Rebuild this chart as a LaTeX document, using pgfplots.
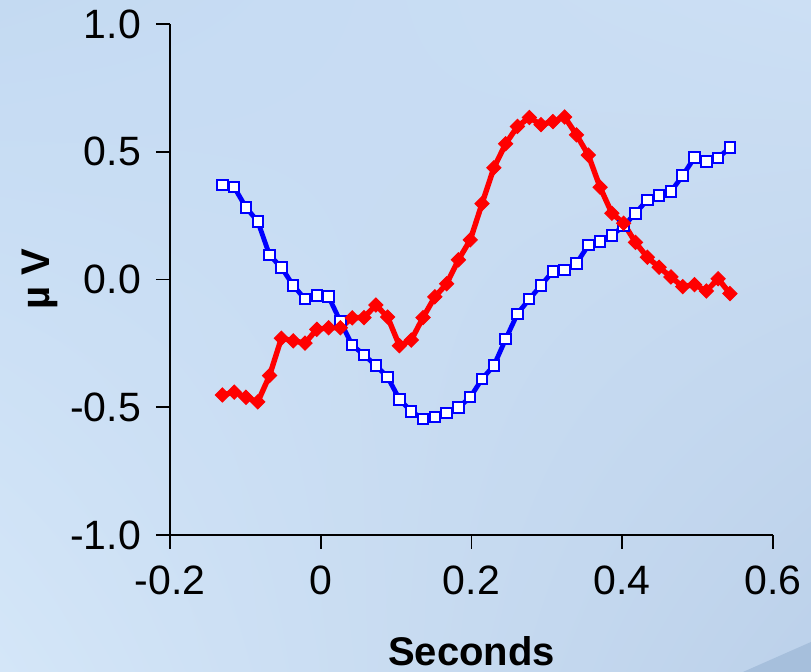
\documentclass[border=0pt]{standalone}
\usepackage{pgfplots}
\pgfplotsset{compat=1.18}
\usepackage{pgfplotstable}
\usetikzlibrary{shadings}
\usepackage{fontspec}
\setmainfont{Liberation Sans}
\definecolor{bgUL}{HTML}{C4DAF2}
\definecolor{bgUR}{HTML}{CCDFF4}
\definecolor{bgLL}{HTML}{D4E6F8}
\definecolor{bgLR}{HTML}{BCD1EA}
\definecolor{swoosh}{HTML}{A6BFDC}
\definecolor{lineblue}{HTML}{0000FF}
\definecolor{linered}{HTML}{FF0000}

\pgfplotstableread{
x        blue    red
-0.1305  0.369  -0.452
-0.1148  0.361  -0.441
-0.0992  0.282  -0.461
-0.0835  0.227  -0.479
-0.0679  0.095  -0.376
-0.0522  0.047  -0.230
-0.0365 -0.023  -0.240
-0.0209 -0.077  -0.249
-0.0052 -0.062  -0.195
 0.0104 -0.067  -0.189
 0.0261 -0.165  -0.189
 0.0418 -0.257  -0.150
 0.0574 -0.295  -0.149
 0.0731 -0.337  -0.100
 0.0887 -0.382  -0.147
 0.1044 -0.469  -0.259
 0.1201 -0.516  -0.237
 0.1357 -0.546  -0.149
 0.1514 -0.538  -0.068
 0.1670 -0.523  -0.017
 0.1827 -0.501   0.077
 0.1984 -0.461   0.155
 0.2140 -0.389   0.297
 0.2297 -0.337   0.437
 0.2453 -0.234   0.531
 0.2610 -0.134   0.599
 0.2767 -0.077   0.634
 0.2923 -0.023   0.606
 0.3080  0.032   0.618
 0.3236  0.038   0.636
 0.3393  0.063   0.566
 0.3550  0.134   0.487
 0.3706  0.149   0.361
 0.3863  0.172   0.259
 0.4019  0.210   0.220
 0.4176  0.259   0.145
 0.4333  0.312   0.087
 0.4489  0.329   0.048
 0.4646  0.344   0.010
 0.4802  0.407  -0.028
 0.4959  0.477  -0.020
 0.5116  0.461  -0.045
 0.5272  0.476   0.003
 0.5429  0.516  -0.055
}\datatable

\begin{document}
\begin{tikzpicture}
\shade[upper left=bgUL, upper right=bgUR, lower left=bgLL, lower right=bgLR] (0pt,0pt) rectangle (405.5pt,336pt);
\fill[swoosh] (371.5pt,0pt) -- (405.5pt,0pt) -- (405.5pt,15pt) -- cycle;
\useasboundingbox (0pt,0pt) rectangle (405.5pt,336pt);
\begin{axis}[
  at={(85pt,68.5pt)}, anchor=south west,
  scale only axis, width=301.5pt, height=255.5pt,
  xmin=-0.2, xmax=0.6, ymin=-1, ymax=1,
  axis lines=left, axis line style={-, line width=0.8pt, black},
  tick align=outside, major tick length=7pt,
  tick style={line width=0.8pt, black},
  xtick={-0.2,0,0.2,0.4,0.6}, xticklabels={-0.2,0,0.2,0.4,0.6},
  ytick={-1,-0.5,0,0.5,1}, yticklabels={-1.0,-0.5,0.0,0.5,1.0},
  tick label style={font=\fontsize{20.5}{24}\selectfont},
  xticklabel style={yshift=-5pt},
  yticklabel style={xshift=-4pt},
  clip=false,
  xlabel={\textbf{Seconds}},
  ylabel={\textbf{µ V}},
  label style={font=\fontsize{20}{24}\selectfont},
  xlabel style={at={(axis description cs:0.5,-0.228)}, anchor=center},
  ylabel style={at={(axis description cs:-0.215,0.5)}, anchor=center},
]
\addplot[lineblue, line width=2.4pt, mark=square*, mark size=2.6pt,
  mark options={fill=white, draw=lineblue, line width=1pt, solid}]
  table[x=x, y=blue] {\datatable};
\addplot[linered, line width=2.7pt, mark=square*, mark size=2.5pt,
  mark options={fill=linered, draw=linered, rotate=45, line width=0.5pt, solid}]
  table[x=x, y=red] {\datatable};
\end{axis}
\end{tikzpicture}
\end{document}
